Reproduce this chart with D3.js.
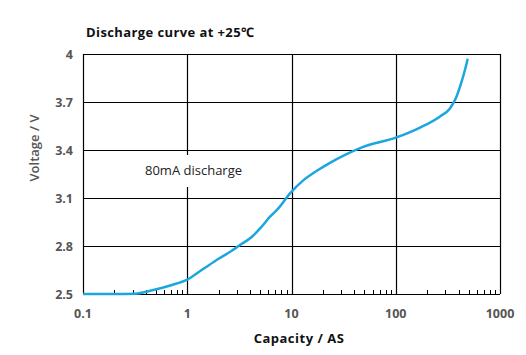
<!DOCTYPE html>
<html><head><meta charset="utf-8">
<script src="https://cdn.jsdelivr.net/npm/d3@7"></script>
<style>
html,body{margin:0;padding:0;background:#fff;}
text{font-family:"Open Sans","Noto Sans",sans-serif;}
</style></head>
<body>
<svg id="c" width="526" height="355"></svg>
<script>
const capacity = [0.1, 0.2, 0.32, 0.44, 0.7, 1.0, 1.42, 2.0, 2.67, 3.2, 4.15, 5.0, 6.22, 7.47, 9.68, 12.97, 17.5, 23.4, 32.6, 48.8, 100, 171, 266, 331, 370, 413, 461, 490];
const voltage  = [2.5, 2.5, 2.502, 2.52, 2.555, 2.59, 2.656, 2.72, 2.77, 2.806, 2.856, 2.91, 2.983, 3.035, 3.129, 3.21, 3.27, 3.32, 3.37, 3.42, 3.477, 3.54, 3.61, 3.66, 3.712, 3.795, 3.9, 3.97];
const xTicks = [0.1, 1, 10, 100, 1000];
const xTickLabels = ["0.1", "1", "10", "100", "1000"];
const yTicks = [2.5, 2.8, 3.1, 3.4, 3.7, 4];
const yTickLabels = ["2.5", "2.8", "3.1", "3.4", "3.7", "4"];
const title = "Discharge curve at +25\u2103";
const seriesLabel = "80mA discharge";
const xTitle = "Capacity / AS";
const yTitle = "Voltage / V";

const svg = d3.select("#c");
const L = 83, R = 500, T = 54, B = 294;
const x = d3.scaleLog().domain([0.1, 1000]).range([L, R]);
const y = d3.scaleLinear().domain([2.5, 4]).range([B, T]);

// grid
const g = svg.append("g");
g.selectAll("line.vx").data(xTicks).enter().append("line")
  .attr("x1", d => Math.round(x(d)) + 0.5).attr("x2", d => Math.round(x(d)) + 0.5)
  .attr("y1", T).attr("y2", B).attr("stroke", "#000").attr("stroke-width", 1.2);
g.selectAll("line.hy").data(yTicks).enter().append("line")
  .attr("y1", d => Math.round(y(d)) + 0.5).attr("y2", d => Math.round(y(d)) + 0.5)
  .attr("x1", L).attr("x2", R).attr("stroke", "#000").attr("stroke-width", 1.2);

// minor ticks
const minors = [];
[0.1, 1, 10, 100].forEach(d => { for (let k = 2; k <= 9; k++) minors.push(d * k); });
g.selectAll("line.mt").data(minors).enter().append("line")
  .attr("x1", d => Math.round(x(d)) + 0.5).attr("x2", d => Math.round(x(d)) + 0.5)
  .attr("y1", B - 4).attr("y2", B).attr("stroke", "#000").attr("stroke-width", 1);

// label box
svg.append("rect").attr("x", 140).attr("y", 155).attr("width", 108).attr("height", 32).attr("fill", "#fff");
svg.append("text").attr("x", 145).attr("y", 175).attr("font-size", 13).attr("fill", "#222").text(seriesLabel);

// curve
const line = d3.line().x((d, i) => x(capacity[i])).y((d, i) => y(voltage[i])).curve(d3.curveMonotoneX);
svg.append("path").datum(voltage).attr("d", line).attr("fill", "none")
  .attr("stroke", "#1ba6df").attr("stroke-width", 2.5);

// tick labels
svg.selectAll("text.xt").data(xTicks).enter().append("text")
  .attr("x", d => x(d)).attr("y", 318).attr("text-anchor", "middle")
  .attr("font-size", 12.5).attr("font-weight", "bold").attr("fill", "#555")
  .text((d, i) => xTickLabels[i]);
svg.selectAll("text.yt").data(yTicks).enter().append("text")
  .attr("x", 73).attr("y", d => y(d) + 4.5).attr("text-anchor", "end")
  .attr("font-size", 12.5).attr("font-weight", "bold").attr("fill", "#555")
  .text((d, i) => yTickLabels[i]);

// titles
svg.append("text").attr("x", 86).attr("y", 37).attr("font-size", 13).attr("letter-spacing", 0.4).attr("font-weight", "bold").attr("fill", "#111").text(title);
svg.append("text").attr("x", 299).attr("y", 343).attr("text-anchor", "middle").attr("font-size", 13).attr("letter-spacing", 0.5).attr("font-weight", "bold").attr("fill", "#111").text(xTitle);
svg.append("text").attr("transform", "translate(39,148) rotate(-90)").attr("text-anchor", "middle")
  .attr("font-size", 13).attr("font-weight", "600").attr("fill", "#555").text(yTitle);
</script>
</body></html>
